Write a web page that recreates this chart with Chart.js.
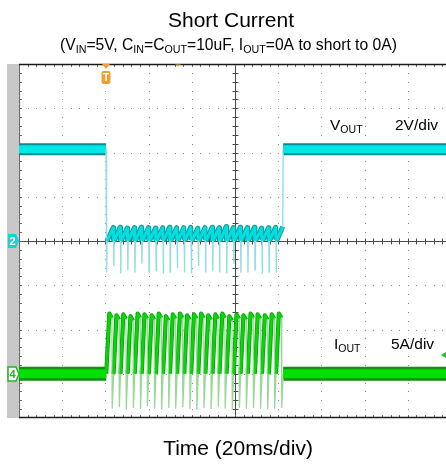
<!DOCTYPE html>
<html><head><meta charset="utf-8">
<script src="https://cdn.jsdelivr.net/npm/chart.js@4"></script>
<style>html,body{margin:0;padding:0;background:#fff;overflow:hidden;width:446px;height:464px}canvas{display:block}</style>
</head><body><canvas id="c" width="452" height="464"></canvas>
<script>
// ---------- text ----------
const titleText = "Short Current";
const subtitleParts = [
  {t:"(V"},{t:"IN",sub:true},{t:"=5V, C"},{t:"IN",sub:true},{t:"=C"},{t:"OUT",sub:true},
  {t:"=10uF, I"},{t:"OUT",sub:true},{t:"=0A to short to 0A)"}
];
const xAxisTitle = "Time (20ms/div)";
const voutLabelParts = [{t:"V"},{t:"OUT",sub:true}];
const voutScaleText = "2V/div";
const ioutLabelParts = [{t:"I"},{t:"OUT",sub:true}];
const ioutScaleText = "5A/div";

// ---------- axes (scope graticule) ----------
const timeGridMs = [0,20,40,60,80,100,120,140,160,180,200];
const voltGrid = [-8,-6,-4,-2,0,2,4,6,8];   // 2 V/div, ch2 ground at centre
const ampRange = [-5,35];                   // 5 A/div, ch4 ground 3 div below centre

// ---------- VOUT (V) ----------
const voutTimeMs = [
0, 40.3,
40.5, 40.6, 40.75, 43.6,
43.8, 43.9, 44.05, 46.8,
47.0, 47.1, 47.25, 50.1,
50.3, 50.4, 50.55, 53.4,
53.6, 53.7, 53.85, 56.6,
56.8, 56.9, 57.05, 59.9,
60.1, 60.2, 60.35, 63.2,
63.4, 63.5, 63.65, 66.5,
66.7, 66.8, 66.95, 69.7,
69.9, 70.0, 70.15, 73.0,
73.2, 73.3, 73.45, 76.3,
76.5, 76.6, 76.75, 79.5,
79.7, 79.8, 79.95, 82.8,
83.0, 83.1, 83.25, 86.1,
86.3, 86.4, 86.55, 89.4,
89.6, 89.7, 89.85, 92.6,
92.8, 92.9, 93.05, 95.9,
96.1, 96.2, 96.35, 99.2,
99.4, 99.5, 99.65, 102.4,
102.6, 102.7, 102.85, 105.7,
105.9, 106.0, 106.15, 109.0,
109.2, 109.3, 109.45, 112.3,
112.5, 112.6, 112.75, 115.5,
115.7, 115.8, 115.95, 118.8,
119.0, 119.1, 119.25, 122.1,
122.3, 200];
const voutVolts = [
4.15, 4.15,
0.05, -1.40, 0.00, 0.60,
0.05, -1.10, 0.00, 0.62,
0.05, -1.45, 0.00, 0.58,
0.05, -1.30, 0.00, 0.60,
0.05, -1.40, 0.00, 0.62,
0.05, -1.00, 0.00, 0.60,
0.05, -1.40, 0.00, 0.58,
0.05, -1.35, 0.00, 0.60,
0.05, -1.45, 0.00, 0.62,
0.05, -1.40, 0.00, 0.60,
0.05, -1.20, 0.00, 0.60,
0.05, -1.40, 0.00, 0.62,
0.05, -1.45, 0.00, 0.58,
0.05, -1.10, 0.00, 0.60,
0.05, -1.40, 0.00, 0.62,
0.05, -1.35, 0.00, 0.60,
0.05, -1.40, 0.00, 0.65,
0.05, -1.45, 0.00, 0.60,
0.05, -1.00, 0.00, 0.62,
0.05, -1.40, 0.00, 0.60,
0.05, -1.40, 0.00, 0.62,
0.05, -1.30, 0.00, 0.58,
0.05, -1.45, 0.00, 0.60,
0.05, -1.40, 0.00, 0.62,
0.05, -1.40, 0.00, 0.65,
4.15, 4.15];

// ---------- IOUT (A) ----------
const ioutTimeMs = [
0, 40.4,
40.5, 41.8, 43.0, 43.15,
43.8, 45.1, 46.3, 46.45,
47.0, 48.3, 49.5, 49.65,
50.3, 51.6, 52.8, 52.95,
53.6, 54.9, 56.1, 56.25,
56.8, 58.1, 59.3, 59.45,
60.1, 61.4, 62.6, 62.75,
63.4, 64.7, 65.9, 66.05,
66.7, 68.0, 69.2, 69.35,
69.9, 71.2, 72.4, 72.55,
73.2, 74.5, 75.7, 75.85,
76.5, 77.8, 79.0, 79.15,
79.7, 81.0, 82.2, 82.35,
83.0, 84.3, 85.5, 85.65,
86.3, 87.6, 88.8, 88.95,
89.6, 90.9, 92.1, 92.25,
92.8, 94.1, 95.3, 95.45,
96.1, 97.4, 98.6, 98.75,
99.4, 100.7, 101.9, 102.05,
102.6, 103.9, 105.1, 105.25,
105.9, 107.2, 108.4, 108.55,
109.2, 110.5, 111.7, 111.85,
112.5, 113.8, 115.0, 115.15,
115.7, 117.0, 118.2, 118.35,
119.0, 120.3, 121.5, 121.65,
122.3, 200];
const ioutAmps = [
0, 0,
0, 6.8, 6.3, -3.9,
0, 6.6, 6.1, -3.7,
0, 6.7, 6.2, -4.0,
0, 6.5, 6.0, -3.8,
0, 6.8, 6.3, -3.9,
0, 6.7, 6.2, -3.6,
0, 6.6, 6.1, -3.9,
0, 6.8, 6.3, -4.0,
0, 6.5, 6.0, -3.8,
0, 6.7, 6.2, -3.9,
0, 6.8, 6.3, -3.7,
0, 6.6, 6.1, -3.9,
0, 6.7, 6.2, -4.0,
0, 6.8, 6.3, -3.8,
0, 6.6, 6.1, -3.9,
0, 6.7, 6.2, -3.7,
0, 6.8, 6.3, -3.9,
0, 6.5, 6.0, -4.0,
0, 6.7, 6.2, -3.8,
0, 6.6, 6.1, -3.9,
0, 6.8, 6.3, -3.8,
0, 6.7, 6.2, -3.9,
0, 6.6, 6.1, -4.0,
0, 6.7, 6.2, -3.9,
0, 6.8, 6.3, -3.8,
0, 0];

// ---------- styling helpers ----------
const FONT = '"Liberation Sans", Arial, Helvetica, sans-serif';
function classify(c, vals, lowLimit, steepRule){
  const dx = Math.abs(c.p1.x - c.p0.x), dy = Math.abs(c.p1.y - c.p0.y);
  const v0 = vals[c.p0DataIndex], v1 = vals[c.p1DataIndex];
  if (dx > 30 && dy < 1) return 'flat';
  if (Math.min(v0, v1) < lowLimit) return 'light';
  if (steepRule && dy > 25 && dy > 8 * dx) return 'light';
  return 'ramp';
}
function seg(vals, lowLimit, steepRule, colors, widths){
  return {
    borderColor: c => colors[classify(c, vals, lowLimit, steepRule)],
    borderWidth: c => widths[classify(c, vals, lowLimit, steepRule)]
  };
}
const pts = (t, v) => t.map((x, i) => ({x, y: v[i]}));

function richWidth(ctx, parts, size){
  let w = 0;
  for (const p of parts){ ctx.font = (p.sub ? size*0.68 : size) + 'px ' + FONT; w += ctx.measureText(p.t).width; }
  return w;
}
function drawRich(ctx, parts, x, y, size, align){
  let cx = align === 'center' ? x - richWidth(ctx, parts, size)/2 : x;
  ctx.textAlign = 'left'; ctx.textBaseline = 'alphabetic';
  for (const p of parts){
    ctx.font = (p.sub ? size*0.68 : size) + 'px ' + FONT;
    ctx.fillText(p.t, cx, p.sub ? y + size*0.2 : y);
    cx += ctx.measureText(p.t).width;
  }
}

const graticule = {
  id: 'graticule',
  beforeDatasetsDraw(chart){
    const {ctx, chartArea: a, scales: {x, yv}} = chart;
    ctx.save();
    ctx.fillStyle = '#c8c8c8';
    ctx.fillRect(7, a.top, a.left - 7, a.bottom - a.top);
    const xmin = timeGridMs[0], xmax = timeGridMs[timeGridMs.length-1];
    const vmin = voltGrid[0], vmax = voltGrid[voltGrid.length-1];
    const xStep = (timeGridMs[1]-timeGridMs[0])/5, vStep = (voltGrid[1]-voltGrid[0])/5;
    const xc = timeGridMs[5], vc = 0;
    ctx.fillStyle = '#8a8a8a';
    for (const t of timeGridMs){
      if (t === xmin || t === xc || t === xmax) continue;
      const px = Math.round(x.getPixelForValue(t));
      for (let i = 1; i < (vmax-vmin)/vStep; i++){
        const py = Math.round(yv.getPixelForValue(vmin + i*vStep));
        ctx.fillRect(px, py, 1, 1);
      }
    }
    for (const v of voltGrid){
      if (v === vmin || v === vc || v === vmax) continue;
      const py = Math.round(yv.getPixelForValue(v));
      for (let i = 1; i <= (xmax-xmin)/xStep; i++){
        const px = Math.round(x.getPixelForValue(xmin + i*xStep));
        ctx.fillRect(px, py, 1, 1);
      }
    }
    ctx.strokeStyle = '#4a4a4a'; ctx.lineWidth = 1;
    const cx = Math.round(x.getPixelForValue(xc)) + 0.5;
    const cy = Math.round(yv.getPixelForValue(vc)) + 0.5;
    ctx.beginPath();
    ctx.moveTo(cx, a.top); ctx.lineTo(cx, a.bottom);
    ctx.moveTo(a.left, cy); ctx.lineTo(a.right, cy);
    for (let i = 1; i < (vmax-vmin)/vStep; i++){
      const py = Math.round(yv.getPixelForValue(vmin + i*vStep)) + 0.5;
      ctx.moveTo(cx-3, py); ctx.lineTo(cx+3, py);
    }
    for (let i = 1; i <= (xmax-xmin)/xStep; i++){
      const px = Math.round(x.getPixelForValue(xmin + i*xStep)) + 0.5;
      ctx.moveTo(px, cy-3); ctx.lineTo(px, cy+3);
    }
    ctx.stroke();
    ctx.strokeStyle = '#6a6a6a';
    ctx.beginPath();
    for (let i = 1; i <= (xmax-xmin)/xStep; i++){
      const px = Math.round(x.getPixelForValue(xmin + i*xStep)) + 0.5;
      ctx.moveTo(px, a.top); ctx.lineTo(px, a.top+3);
      ctx.moveTo(px, a.bottom); ctx.lineTo(px, a.bottom-3);
    }
    for (let i = 1; i < (vmax-vmin)/vStep; i++){
      const py = Math.round(yv.getPixelForValue(vmin + i*vStep)) + 0.5;
      ctx.moveTo(a.left, py); ctx.lineTo(a.left+3, py);
    }
    ctx.moveTo(a.left+0.5, a.top); ctx.lineTo(a.left+0.5, a.bottom);
    ctx.stroke();
    ctx.strokeStyle = '#1a1a1a'; ctx.lineWidth = 1.5;
    ctx.beginPath();
    ctx.moveTo(a.left, a.top+0.5); ctx.lineTo(a.right, a.top+0.5);
    ctx.moveTo(a.left, a.bottom-0.5); ctx.lineTo(a.right, a.bottom-0.5);
    ctx.stroke();
    ctx.restore();
  },
  afterDatasetsDraw(chart){
    const {ctx, chartArea: a, scales: {x, yv, yi}} = chart;
    ctx.save();
    const y2 = Math.round(yv.getPixelForValue(0));
    ctx.fillStyle = '#14d2dc';
    ctx.beginPath();
    ctx.moveTo(8, y2-7); ctx.lineTo(16, y2-7); ctx.lineTo(19, y2); ctx.lineTo(16, y2+7); ctx.lineTo(8, y2+7); ctx.closePath();
    ctx.fill();
    ctx.fillStyle = '#fff'; ctx.font = 'bold 11px ' + FONT; ctx.textAlign = 'center'; ctx.textBaseline = 'middle';
    ctx.fillText('2', 12.5, y2+0.5);
    const y4 = Math.round(yi.getPixelForValue(0));
    ctx.fillStyle = '#fff'; ctx.strokeStyle = '#22b422'; ctx.lineWidth = 1.5;
    ctx.beginPath();
    ctx.moveTo(8, y4-7); ctx.lineTo(16, y4-7); ctx.lineTo(19, y4); ctx.lineTo(16, y4+7); ctx.lineTo(8, y4+7); ctx.closePath();
    ctx.fill(); ctx.stroke();
    ctx.fillStyle = '#22b422';
    ctx.fillText('4', 12.5, y4+0.5);
    const tx = Math.round(x.getPixelForValue(40.3));
    ctx.fillStyle = '#f0a030';
    ctx.beginPath(); ctx.moveTo(tx-4, a.top); ctx.lineTo(tx+4, a.top); ctx.lineTo(tx, a.top+5); ctx.closePath(); ctx.fill();
    ctx.beginPath();
    if (ctx.roundRect) ctx.roundRect(tx-4.5, a.top+7, 9, 13, 2); else ctx.rect(tx-4.5, a.top+7, 9, 13);
    ctx.fill();
    ctx.fillStyle = '#fff'; ctx.font = 'bold 10px ' + FONT;
    ctx.fillText('T', tx, a.top+14);
    const dx = Math.round(x.getPixelForValue(73.6));
    ctx.fillStyle = 'rgba(240,160,48,0.6)';
    ctx.beginPath(); ctx.moveTo(dx-3, a.top); ctx.lineTo(dx+3, a.top); ctx.lineTo(dx, a.top+3); ctx.closePath(); ctx.fill();
    const yr = Math.round(yi.getPixelForValue(2.1));
    ctx.fillStyle = '#22c022';
    ctx.beginPath(); ctx.moveTo(441, yr); ctx.lineTo(446, yr-3); ctx.lineTo(446, yr+3); ctx.closePath(); ctx.fill();
    ctx.fillStyle = '#000';
    const yvl = yv.getPixelForValue(5.0);
    drawRich(ctx, voutLabelParts, 330, yvl, 15.5, 'left');
    ctx.font = '15.5px ' + FONT; ctx.textAlign = 'left'; ctx.textBaseline = 'alphabetic';
    ctx.fillText(voutScaleText, 395, yvl);
    const yil = yi.getPixelForValue(2.8);
    drawRich(ctx, ioutLabelParts, 334, yil, 15.5, 'left');
    ctx.font = '15.5px ' + FONT; ctx.textAlign = 'left';
    ctx.fillText(ioutScaleText, 391, yil);
    ctx.textAlign = 'center';
    ctx.font = '21px ' + FONT;
    ctx.fillText(titleText, 231, 27);
    drawRich(ctx, subtitleParts, 228.5, 50, 15.7, 'center');
    ctx.textAlign = 'center'; ctx.font = '21px ' + FONT;
    ctx.fillText(xAxisTitle, 238, 455);
    ctx.restore();
  }
};

const vColors = {flat:'#00e6e6', ramp:'#00dede', light:'#93dede'};
const vWidths = {flat:8, ramp:3, light:1.4};
const vEdgeColors = {flat:'#0a8a92', ramp:'#15959c', light:'rgba(0,0,0,0)'};
const vEdgeWidths = {flat:12, ramp:5, light:0};
const iColors = {flat:'#00e000', ramp:'#00dc00', light:'#9ad89a'};
const iWidths = {flat:9, ramp:2.5, light:1.3};
const iEdgeColors = {flat:'#119011', ramp:'#1a981a', light:'rgba(0,0,0,0)'};
const iEdgeWidths = {flat:14, ramp:4.2, light:0};

new Chart(document.getElementById('c'), {
  type: 'line',
  data: {
    datasets: [
      {label:'VOUT', data: pts(voutTimeMs, voutVolts), yAxisID:'yv', order:0,
       segment: seg(voutVolts, -0.3, true, vColors, vWidths)},
      {label:'IOUT', data: pts(ioutTimeMs, ioutAmps), yAxisID:'yi', order:0,
       segment: seg(ioutAmps, -1, false, iColors, iWidths)},
      {label:'VOUT edge', data: pts(voutTimeMs, voutVolts), yAxisID:'yv', order:1,
       segment: seg(voutVolts, -0.3, true, vEdgeColors, vEdgeWidths)},
      {label:'IOUT edge', data: pts(ioutTimeMs, ioutAmps), yAxisID:'yi', order:1,
       segment: seg(ioutAmps, -1, false, iEdgeColors, iEdgeWidths)}
    ]
  },
  options: {
    responsive: false,
    animation: false,
    layout: {padding: {left: 19, right: 1, top: 64, bottom: 46}},
    elements: {point: {radius: 0}, line: {tension: 0, borderJoinStyle: 'round'}},
    plugins: {legend: {display: false}, tooltip: {enabled: false}, title: {display: false}},
    scales: {
      x: {type: 'linear', min: timeGridMs[0], max: timeGridMs[timeGridMs.length-1], display: false},
      yv: {type: 'linear', min: voltGrid[0], max: voltGrid[voltGrid.length-1], display: false},
      yi: {type: 'linear', min: ampRange[0], max: ampRange[1], display: false}
    }
  },
  plugins: [graticule]
});
</script>
</body></html>
